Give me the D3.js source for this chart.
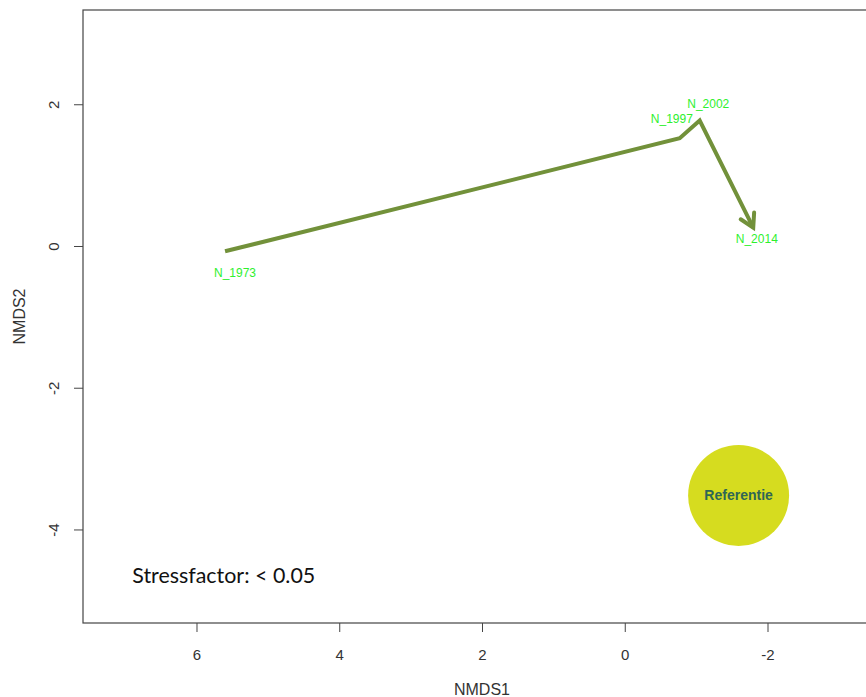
<!DOCTYPE html>
<html>
<head>
<meta charset="utf-8">
<script src="https://cdn.jsdelivr.net/npm/d3@7"></script>
<style>
  html, body { margin: 0; padding: 0; background: #fff; }
  svg { display: block; }
</style>
</head>
<body>
<svg id="chart" width="866" height="697"></svg>
<script>
// NMDS site scores, in sampling order
const years = ["N_1973", "N_1997", "N_2002", "N_2014"];
const nmds1 = [5.60, -0.77, -1.05, -1.80];
const nmds2 = [-0.075, 1.52, 1.77, 0.26];

// Label anchor positions (NMDS units)
const labelX = [5.46, -0.66, -1.17, -1.85];
const labelY = [-0.385, 1.80, 2.00, 0.095];

// Reference point
const refName = "Referentie";
const refX = [-1.595];
const refY = [-3.52];

const xTicks = [6, 4, 2, 0, -2];
const yTicks = [2, 0, -2, -4];
const xDomain = [7.59, -3.59];
const yDomain = [-5.32, 3.33];
const stressText = "Stressfactor: < 0.05";
const stressPos = [6.9, -4.75];

const svg = d3.select("#chart");
const plotLeft = 83, plotRight = 881, plotTop = 10, plotBottom = 623;

const x = d3.scaleLinear().domain(xDomain).range([plotLeft, plotRight]);
const y = d3.scaleLinear().domain(yDomain).range([plotBottom, plotTop]);

// Plot frame
svg.append("rect")
  .attr("x", plotLeft).attr("y", plotTop)
  .attr("width", plotRight - plotLeft).attr("height", plotBottom - plotTop)
  .attr("fill", "none").attr("stroke", "#444").attr("stroke-width", 1.2);

const axisFont = "'Liberation Sans', Arial, sans-serif";
const plainNumber = d => String(d);   // ASCII hyphen for negatives

// Bottom axis
const gx = svg.append("g").attr("transform", `translate(0,${plotBottom})`)
  .call(d3.axisBottom(x).tickValues(xTicks).tickSize(9).tickSizeOuter(0).tickFormat(plainNumber));
gx.select(".domain").remove();
gx.selectAll(".tick line").attr("stroke", "#444");
gx.selectAll(".tick text")
  .attr("y", 32).attr("dy", "0.35em")
  .attr("fill", "#333").style("font-family", axisFont).style("font-size", "15px");

// Left axis
const gy = svg.append("g").attr("transform", `translate(${plotLeft},0)`)
  .call(d3.axisLeft(y).tickValues(yTicks).tickSize(9).tickSizeOuter(0).tickFormat(plainNumber));
gy.select(".domain").remove();
gy.selectAll(".tick line").attr("stroke", "#444");
gy.selectAll(".tick text")
  .attr("x", null)
  .attr("text-anchor", "middle")
  .attr("transform", "translate(-29,0) rotate(-90)")
  .attr("dy", "0.35em")
  .attr("fill", "#333").style("font-family", axisFont).style("font-size", "15px");

// Axis titles
svg.append("text")
  .attr("x", (plotLeft + plotRight) / 2).attr("y", 689).attr("dy", "0.35em")
  .attr("text-anchor", "middle").attr("fill", "#333")
  .style("font-family", axisFont).style("font-size", "16px")
  .text("NMDS1");
svg.append("text")
  .attr("transform", `translate(19,${(plotTop + plotBottom) / 2}) rotate(-90)`)
  .attr("dy", "0.35em")
  .attr("text-anchor", "middle").attr("fill", "#333")
  .style("font-family", axisFont).style("font-size", "16px")
  .text("NMDS2");

// Open arrowhead for the trajectory
const lineColor = "#72913a";
svg.append("defs").append("marker")
  .attr("id", "arrowhead")
  .attr("markerUnits", "userSpaceOnUse")
  .attr("viewBox", "-20 -12 24 24")
  .attr("markerWidth", 24).attr("markerHeight", 24)
  .attr("refX", 0).attr("refY", 0)
  .attr("orient", "auto")
  .style("overflow", "visible")
  .append("path")
  .attr("d", "M-13,-7.5 L0,0 L-13,7.5")
  .attr("fill", "none").attr("stroke", lineColor)
  .attr("stroke-width", 4).attr("stroke-linejoin", "miter").attr("stroke-linecap", "round");

// Trajectory through time
const pts = years.map((d, i) => [nmds1[i], nmds2[i]]);
svg.append("path")
  .datum(pts)
  .attr("d", d3.line().x(d => x(d[0])).y(d => y(d[1])))
  .attr("fill", "none").attr("stroke", lineColor)
  .attr("stroke-width", 4).attr("stroke-linejoin", "miter")
  .attr("marker-end", "url(#arrowhead)");

// Year labels
svg.selectAll("text.site")
  .data(years)
  .join("text")
  .attr("class", "site")
  .attr("x", (d, i) => x(labelX[i]))
  .attr("y", (d, i) => y(labelY[i]))
  .attr("dy", "0.35em")
  .attr("text-anchor", "middle")
  .attr("fill", "#2ef02e")
  .style("font-family", axisFont).style("font-size", "12px")
  .text(d => d);

// Reference marker
svg.append("circle")
  .attr("cx", x(refX[0])).attr("cy", y(refY[0])).attr("r", 50.5)
  .attr("fill", "#d6dc1f");
svg.append("text")
  .attr("x", x(refX[0])).attr("y", y(refY[0])).attr("dy", "0.35em")
  .attr("text-anchor", "middle").attr("fill", "#2f6655")
  .style("font-family", axisFont).style("font-size", "14px").style("font-weight", "bold")
  .text(refName);

// Stress annotation
svg.append("text")
  .attr("x", x(stressPos[0])).attr("y", y(stressPos[1]))
  .attr("fill", "#111")
  .attr("textLength", 183).attr("lengthAdjust", "spacingAndGlyphs")
  .style("font-family", "Lato, 'Open Sans', sans-serif").style("font-size", "22px")
  .text(stressText);
</script>
</body>
</html>
